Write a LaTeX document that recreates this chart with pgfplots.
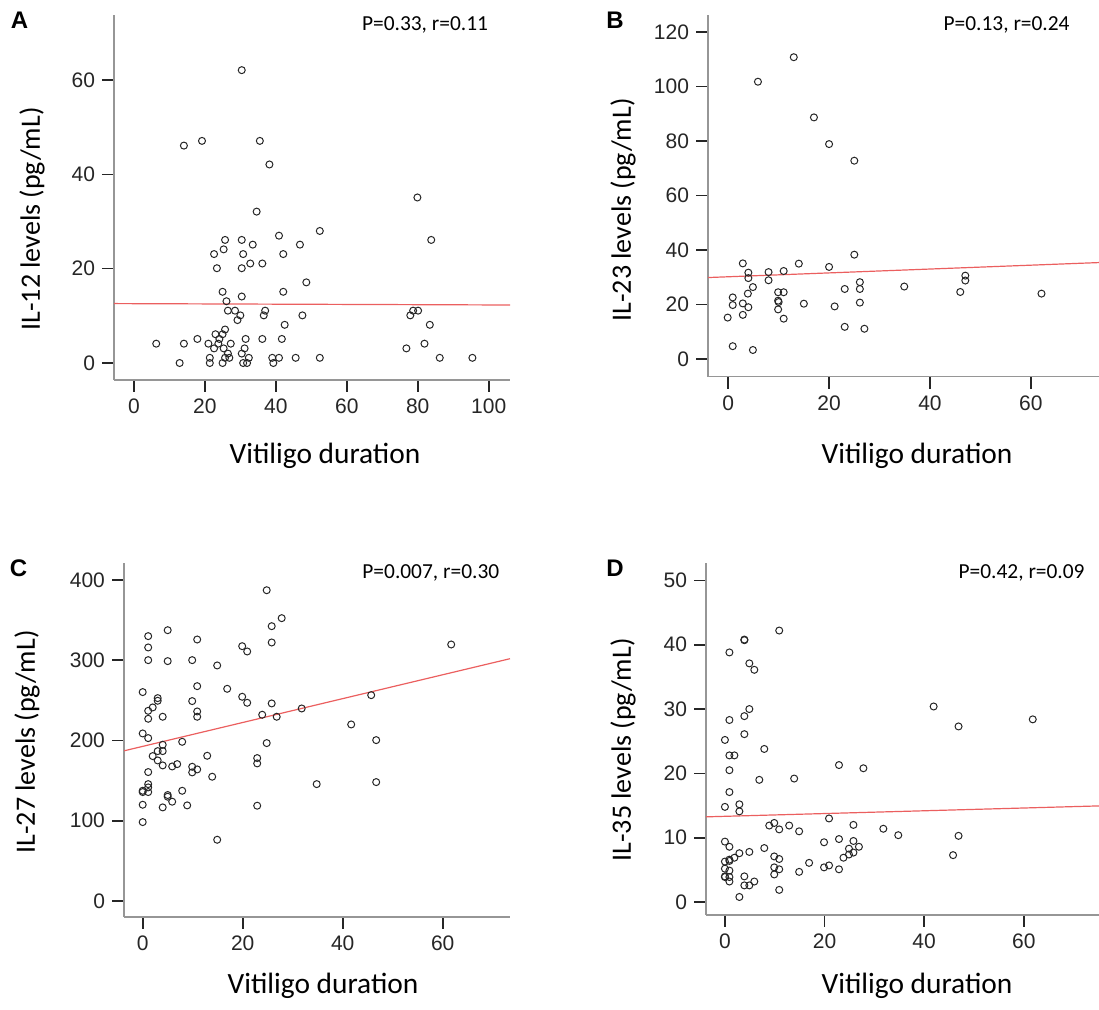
\documentclass[border=0pt]{standalone}
\usepackage{fontspec}
\setmainfont{Carlito}
\newfontfamily\arial{Liberation Sans}
\usepackage{pgfplots}
\pgfplotsset{compat=1.18}

\definecolor{spine}{RGB}{150,150,150}
\definecolor{fitred}{RGB}{235,95,95}

\pgfplotsset{
  spss/.style={
    scale only axis,
    anchor=south west,
    axis x line*=bottom,
    axis y line*=left,
    axis line style={spine, line width=0.8pt},
    tick align=outside,
    major tick length=6pt,
    tick style={black!85, line width=0.8pt},
    tick label style={font=\arial\fontsize{10.5}{12}\selectfont, text=black!85},
    /pgf/number format/assume math mode=true,
    clip=false,
  },
  pts/.style={only marks, mark=o, mark size=1.75pt, black!85, mark options={line width=0.5pt}},
  fit/.style={no marks, fitred, line width=0.6pt},
}

\begin{document}
\begin{tikzpicture}
\useasboundingbox (0,0) rectangle (549.5pt,505pt);

% A
\begin{axis}[spss, at={(57pt,315pt)}, width=198pt, height=182.5pt,
  xmin=-5.6, xmax=106, ymin=-3.6, ymax=73.8,
  xtick={0,20,...,100}, ytick={0,20,40,60}]
\addplot[fit] coordinates {(-5.6,12.6) (106,12.3)};
\addplot[pts] coordinates {
(30.4,62.1) (14.1,46.1) (19.2,47.1) (35.5,47.1) (38.2,42.1) (34.6,32.1) (25.7,26.1) (30.4,26.1)
(40.9,27.0) (25.3,24.1) (33.5,25.1) (46.8,25.1) (22.6,23.1) (30.8,23.1) (42.1,23.1) (23.4,20.1)
(30.4,20.1) (32.8,21.1) (36.2,21.1) (48.6,17.1) (25.0,15.1) (30.4,14.1) (42.1,15.1) (26.1,13.1)
(26.5,11.1) (28.5,11.1) (30.0,10.1) (29.2,9.1) (37.0,11.1) (36.6,10.1) (47.5,10.1) (42.5,8.1)
(25.7,7.1) (23.0,6.1) (25.0,6.1) (24.1,5.1) (6.3,4.1) (14.1,4.1) (17.9,5.1) (21.0,4.1)
(22.6,3.1) (23.8,4.1) (25.3,3.1) (27.3,4.1) (31.5,5.1) (31.2,3.1) (36.2,5.1) (41.7,5.1)
(21.4,1.1) (26.5,2.0) (30.4,2.0) (25.7,1.1) (26.9,1.1) (32.4,1.1) (39.0,1.1) (40.9,1.1)
(45.6,1.1) (12.9,0) (21.4,0) (25.0,0) (30.8,0) (31.9,0) (39.3,0) (52.4,28.0) (52.4,1.1)
(79.9,35.1) (83.8,26.1) (78.7,11.1) (80.1,11.1) (77.9,10.1) (83.4,8.1) (81.9,4.1) (76.8,3.1)
(86.2,1.1) (95.4,1.1)};
\end{axis}

% B
\begin{axis}[spss, at={(354pt,316.65pt)}, width=195.5pt, height=180.85pt,
  xmin=-4, xmax=73.5, ymin=-6.5, ymax=126.3,
  xtick={0,20,40,60}, ytick={0,20,...,120}]
\addplot[fit] coordinates {(-4,29.9) (73.5,35.4)};
\addplot[pts] coordinates {
(13.0,110.8) (5.9,101.8) (17.0,88.7) (20.0,78.9) (25.0,72.8) (25.0,38.3) (2.9,35.1) (14.0,35.0)
(20.0,33.8) (4.0,31.7) (8.0,31.9) (11.0,32.3) (4.0,29.7) (8.0,28.9) (4.9,26.4) (26.1,28.2)
(26.1,25.7) (23.1,25.7) (3.9,24.0) (9.9,24.5) (11.0,24.5) (0.9,22.6) (9.9,21.4) (10.0,20.9)
(0.9,19.8) (2.9,20.4) (4.0,19.0) (15.0,20.3) (21.1,19.3) (26.1,20.7) (9.9,18.2) (-0.1,15.2)
(2.9,16.2) (11.0,14.8) (23.1,11.8) (27.0,11.1) (0.9,4.7) (4.9,3.3)
(34.9,26.6) (47.0,30.6) (47.0,28.8) (46.0,24.6) (62.1,24.0)};
\end{axis}

% C
\begin{axis}[spss, at={(62pt,46.5pt)}, width=193pt, height=177pt,
  xmin=-3.74, xmax=73.46, ymin=-19.9, ymax=421,
  xtick={0,20,40,60}, ytick={0,100,...,400}]
\addplot[fit] coordinates {(-3.7,187.1) (73.46,301.8)};
\addplot[pts] coordinates {
(24.8,387.1) (27.8,352.3) (25.8,342.3) (25.8,322.0) (5.0,337.3) (1.1,329.9) (10.9,325.7) (1.1,315.8)
(19.9,317.4) (20.9,310.8) (1.1,300) (5.0,298.8) (9.9,300) (14.9,293.4) (0,260.2) (10.9,267.6)
(16.9,264.3) (19.9,254.4) (20.9,246.9) (3.0,252.7) (3.0,249.4) (2.0,241.1) (9.9,249.0) (25.8,246.1)
(1.1,236.9) (10.9,236.1) (10.9,229.5) (4.0,229.5) (1.1,227.0) (23.9,232.0) (26.8,229.5) (31.8,239.8)
(0,208.7) (1.1,202.9) (7.9,198.3) (24.8,196.7) (4.0,194.6) (3.0,186.7) (4.0,186.7) (2.0,180.5)
(12.9,180.9) (3.0,175.1) (4.0,168.9) (5.9,167.6) (6.9,170.5) (9.9,167.2) (10.9,163.9) (9.9,160.2)
(22.9,178.0) (22.9,171.4) (1.1,160.6) (13.9,154.8) (1.1,145.6) (1.1,141.5) (0,137.3) (0,135.7)
(1.1,135.7) (7.9,137.3) (5.0,132.0) (5.0,129.9) (5.9,123.7) (0,119.9) (4.0,116.6) (8.9,119.1)
(22.9,118.7) (0,98.3) (14.9,76.3)
(61.7,319.5) (45.7,256.4) (41.7,219.9) (46.7,200.4) (34.8,145.6) (46.7,148.1)};
\end{axis}

% D
\begin{axis}[spss, at={(353pt,47.5pt)}, width=196.5pt, height=176pt,
  xmin=-3.8, xmax=75.1, ymin=-2.0, ymax=52.7,
  xtick={0,20,40,60}, ytick={0,10,...,50}]
\addplot[fit] coordinates {(-3.8,13.25) (75.1,14.95)};
\addplot[pts] coordinates {
(10.9,42.2) (3.9,40.8) (3.9,40.7) (0.9,38.8) (4.9,37.1) (5.9,36.1) (4.9,30.0) (3.9,28.9)
(0.9,28.3) (3.9,26.1) (0,25.2) (7.9,23.8) (0.9,22.8) (1.9,22.8) (0.9,20.5) (6.9,19.0)
(13.9,19.2) (22.9,21.3) (27.8,20.8) (0.9,17.1) (0,14.8) (2.9,15.2) (2.9,14.1) (20.9,13.0)
(8.9,11.9) (9.9,12.3) (10.9,11.3) (12.9,11.9) (14.9,11.0) (25.8,12.0) (31.8,11.4) (34.8,10.4)
(0,9.4) (0.9,8.6) (2.9,7.6) (1.9,6.9) (0.9,6.6) (0.9,6.4) (0,6.3) (4.9,7.8)
(7.9,8.4) (9.9,7.1) (10.9,6.7) (9.9,5.4) (10.9,5.1) (9.9,4.3) (0,5.2) (0,4.0)
(0,3.9) (0.9,4.9) (0.9,3.9) (0.9,3.2) (3.9,4.0) (3.9,2.6) (4.9,2.6) (5.9,3.2)
(2.9,0.8) (10.9,1.9) (16.9,6.1) (14.9,4.7) (19.9,9.3) (22.9,9.8) (19.9,5.4) (20.9,5.7)
(22.9,5.1) (25.8,9.5) (26.9,8.6) (24.9,8.3) (25.8,7.7) (24.9,7.4) (23.8,6.9)
(41.9,30.4) (46.9,27.3) (61.8,28.4) (46.9,10.3) (45.8,7.3)};
\end{axis}

% panel letters
\begin{scope}[every node/.style={font=\arial\bfseries\fontsize{12}{14}\selectfont}]
\node at (9.75pt,494.75pt) {A};
\node at (307.5pt,494.75pt) {B};
\node at (9.25pt,221pt) {C};
\node at (307.5pt,221pt) {D};
\end{scope}

% axis titles
\begin{scope}[every node/.style={font=\fontsize{14}{16}\selectfont, rotate=90}]
\node at (16pt,395.5pt) {IL-12 levels (pg/mL)};
\node at (311.5pt,400pt) {IL-23 levels (pg/mL)};
\node at (13.5pt,134pt) {IL-27 levels (pg/mL)};
\node at (311.5pt,130pt) {IL-35 levels (pg/mL)};
\end{scope}
\begin{scope}[every node/.style={font=\fontsize{14.7}{17}\selectfont}]
\node at (162.5pt,277pt) {Vitiligo duration};
\node at (458.5pt,277pt) {Vitiligo duration};
\node at (161.5pt,12pt) {Vitiligo duration};
\node at (458.5pt,12pt) {Vitiligo duration};
\end{scope}

% statistics
\begin{scope}[every node/.style={font=\fontsize{10.7}{12}\selectfont}]
\node at (212.5pt,492.5pt) {P=0.33, r=0.11};
\node at (503.3pt,492.5pt) {P=0.13, r=0.24};
\node at (215.4pt,218.5pt) {P=0.007, r=0.30};
\node at (510.8pt,218.5pt) {P=0.42, r=0.09};
\end{scope}
\end{tikzpicture}
\end{document}
